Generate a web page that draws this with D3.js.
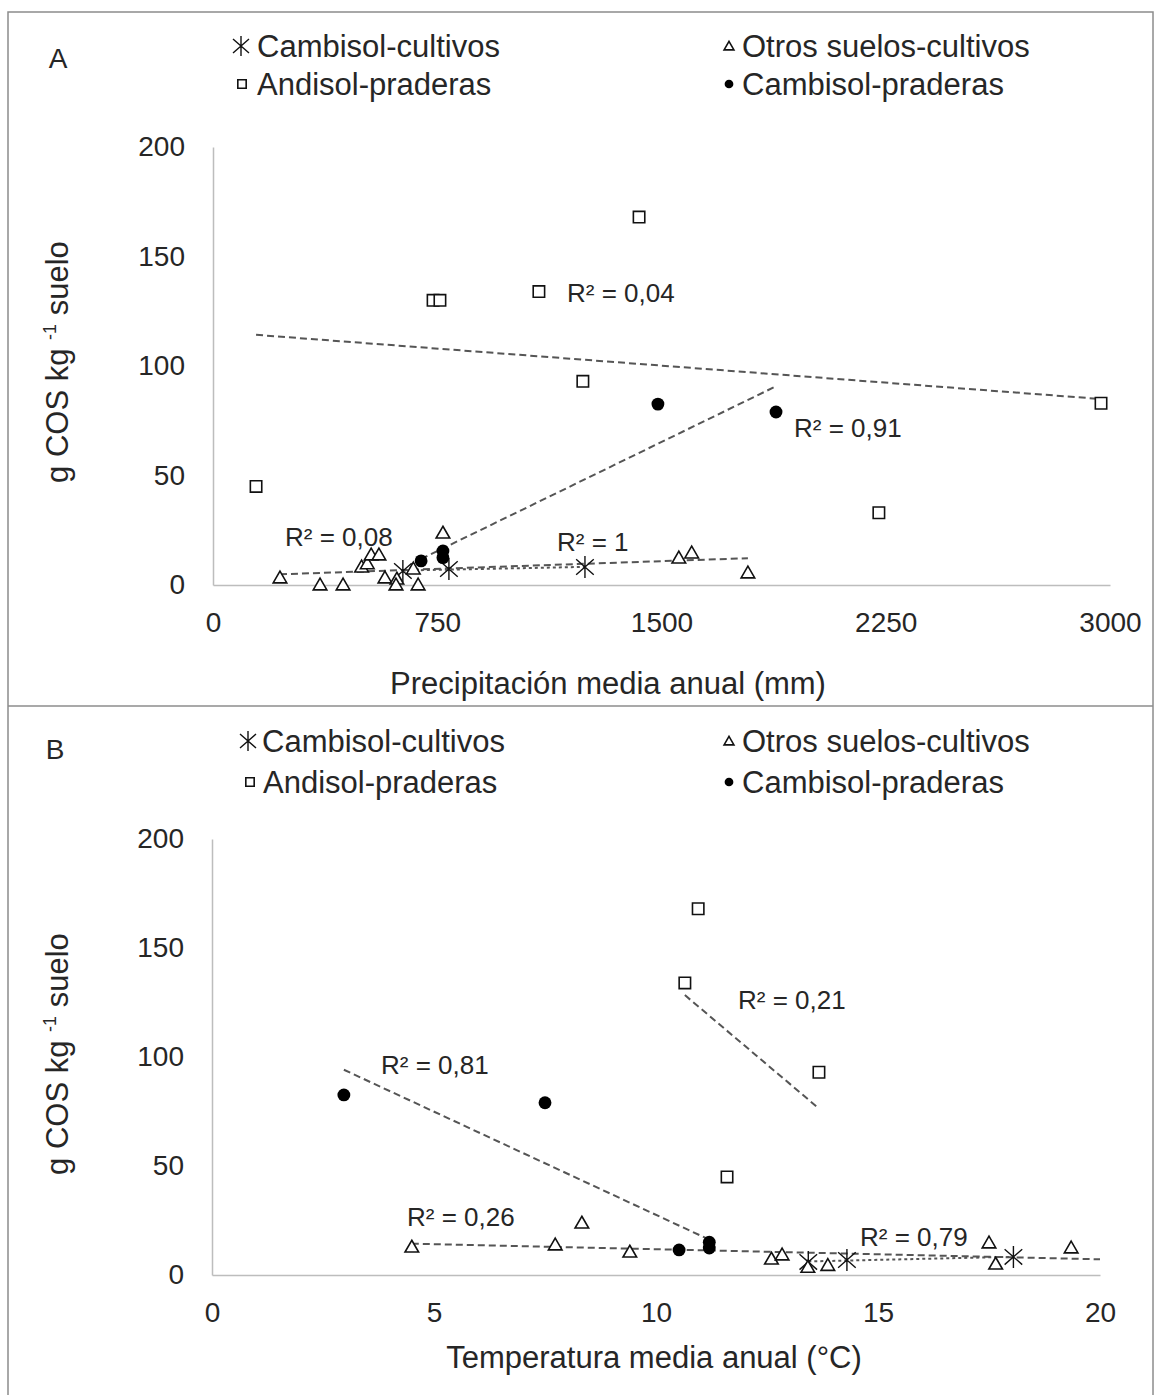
<!DOCTYPE html>
<html><head><meta charset="utf-8">
<script src="https://cdn.jsdelivr.net/npm/d3@7"></script>
<style>
body{margin:0;background:#fff}
svg{display:block}
text{font-family:"Liberation Sans",Arial,sans-serif;fill:#262626}
</style>
</head><body>
<svg id="c" width="1155" height="1395"></svg>
<script>
// ---------- DATA ----------
const yTicks = [0, 50, 100, 150, 200];
const precipTicks = [0, 750, 1500, 2250, 3000];
const tempTicks = [0, 5, 10, 15, 20];

const seriesNames = ["Cambisol-cultivos", "Otros suelos-cultivos", "Andisol-praderas", "Cambisol-praderas"];

// Panel A: precipitation (mm) vs g COS kg-1
const A_cambCult_x = [635, 789, 1244];
const A_cambCult_y = [6.4, 7.3, 8.2];
const A_otros_x = [224, 358, 435, 497, 516, 529, 555, 575, 615, 612, 670, 686, 769, 1558, 1601, 1789];
const A_otros_y = [3.2, 0, 0, 8.2, 9.7, 13.7, 13.7, 3.2, 2.7, 0, 7.3, 0, 23.7, 12.3, 14.6, 5.5];
const A_andisol_x = [144, 736, 759, 1090, 1425, 1237, 2970, 2227];
const A_andisol_y = [45, 130, 130, 134, 168, 93, 83, 33];
const A_cambPrad_x = [696, 769, 769, 1488, 1883];
const A_cambPrad_y = [11, 15.5, 12.5, 82.6, 79];
const A_r2 = ["R² = 1", "R² = 0,08", "R² = 0,04", "R² = 0,91"];
const A_trendEnd = [null, null, null, null];

// Panel B: temperature (°C) vs g COS kg-1
const B_cambCult_x = [13.43, 14.3, 18.05];
const B_cambCult_y = [6, 6.9, 8.3];
const B_otros_x = [4.5, 7.73, 8.33, 9.41, 12.6, 12.84, 13.42, 13.87, 17.5, 17.65, 19.35];
const B_otros_y = [12.8, 13.8, 23.8, 10.5, 7.3, 9.2, 3.5, 4.4, 14.7, 5, 12.4];
const B_andisol_x = [10.65, 10.95, 13.67, 11.6];
const B_andisol_y = [134, 168, 93, 45];
const B_cambPrad_x = [2.97, 7.5, 10.52, 11.2, 11.2];
const B_cambPrad_y = [82.6, 79, 11.5, 15, 12.4];
const B_r2 = ["R² = 0,79", "R² = 0,26", "R² = 0,21", "R² = 0,81"];
const B_trendEnd = [null, 20, null, null];

// ---------- LAYOUT ----------
const svg = d3.select("#c");
const FONT = '"Liberation Sans",Arial,sans-serif';

const panels = [
  {
    letter: "A", top: 12, bottom: 706,
    xDomain: [0, 3000], xRange: [213, 1110], yRange: [585, 147], ticks: precipTicks,
    xTitle: "Precipitación media anual (mm)", xTitlePos: [608, 694], yTitlePos: [68, 362],
    letterPos: [58, 68], legendY: [57, 95],
    legendX: [[241, 257], [729, 742], [242, 257], [729, 742]],
    series: [
      {x: A_cambCult_x, y: A_cambCult_y, sym: "ast"},
      {x: A_otros_x, y: A_otros_y, sym: "tri"},
      {x: A_andisol_x, y: A_andisol_y, sym: "sq"},
      {x: A_cambPrad_x, y: A_cambPrad_y, sym: "dot"}
    ],
    trendEnd: A_trendEnd,
    r2: A_r2, r2Pos: [[557, 551], [285, 546], [567, 302], [794, 437]]
  },
  {
    letter: "B", top: 706, bottom: 1395,
    xDomain: [0, 20], xRange: [212, 1100], yRange: [1275, 839], ticks: tempTicks,
    xTitle: "Temperatura media anual (°C)", xTitlePos: [654, 1368], yTitlePos: [68, 1054],
    letterPos: [55, 759], legendY: [752, 793],
    legendX: [[248, 262], [729, 742], [250, 263], [729, 742]],
    series: [
      {x: B_cambCult_x, y: B_cambCult_y, sym: "ast"},
      {x: B_otros_x, y: B_otros_y, sym: "tri"},
      {x: B_andisol_x, y: B_andisol_y, sym: "sq"},
      {x: B_cambPrad_x, y: B_cambPrad_y, sym: "dot"}
    ],
    trendEnd: B_trendEnd,
    r2: B_r2, r2Pos: [[860, 1246], [407, 1226], [738, 1009], [381, 1074]]
  }
];

function asterisk(s) {
  const h = s, w = s * 0.8, d = s * 0.7;
  return `M0,${-h}L0,${h}M${-w},${-d}L${w},${d}M${-w},${d}L${w},${-d}`;
}
function drawSymbol(g, sym, cx, cy, big) {
  if (sym === "ast") {
    g.append("path").attr("d", asterisk(big ? 11 : 10)).attr("transform", `translate(${cx},${cy})`)
      .attr("fill", "none").attr("stroke", "#111").attr("stroke-width", 1.4);
  } else if (sym === "tri") {
    g.append("path").attr("d", d3.symbol(d3.symbolTriangle, big ? 80 : 42)())
      .attr("transform", `translate(${cx},${cy + 1})`)
      .attr("fill", "#fff").attr("stroke", "#111").attr("stroke-width", 1.6);
  } else if (sym === "sq") {
    g.append("path").attr("d", d3.symbol(d3.symbolSquare, big ? 130 : 70)())
      .attr("transform", `translate(${cx},${cy})`)
      .attr("fill", "#fff").attr("stroke", "#111").attr("stroke-width", 1.6);
  } else {
    g.append("path").attr("d", d3.symbol(d3.symbolCircle, big ? 130 : 60)())
      .attr("transform", `translate(${cx},${cy})`)
      .attr("fill", "#000");
  }
}

function regression(xs, ys) {
  const n = xs.length, mx = d3.mean(xs), my = d3.mean(ys);
  let sxy = 0, sxx = 0;
  for (let i = 0; i < n; i++) { sxy += (xs[i] - mx) * (ys[i] - my); sxx += (xs[i] - mx) ** 2; }
  const b = sxy / sxx, a = my - b * mx;
  return x => a + b * x;
}

// frame
svg.append("rect").attr("x", 8).attr("y", 12).attr("width", 1145).attr("height", 1390)
  .attr("fill", "none").attr("stroke", "#8c8c8c").attr("stroke-width", 1.5);
svg.append("line").attr("x1", 8).attr("x2", 1153).attr("y1", 706).attr("y2", 706)
  .attr("stroke", "#8c8c8c").attr("stroke-width", 1.5);

panels.forEach(p => {
  const g = svg.append("g");
  const x = d3.scaleLinear().domain(p.xDomain).range(p.xRange);
  const y = d3.scaleLinear().domain([0, 200]).range(p.yRange);

  // axes
  const ya = g.append("g").attr("transform", `translate(${p.xRange[0]},0)`)
    .call(d3.axisLeft(y).tickValues(yTicks).tickSize(0).tickPadding(28));
  const xa = g.append("g").attr("transform", `translate(0,${p.yRange[0]})`)
    .call(d3.axisBottom(x).tickValues(p.ticks).tickSize(0).tickPadding(27).tickFormat(d3.format("d")));
  [ya, xa].forEach(a => {
    a.select(".domain").attr("stroke", "#bdbdbd").attr("stroke-width", 1.5);
    a.selectAll("text").attr("font-size", 28).attr("font-family", FONT).attr("fill", "#262626");
  });

  // titles
  g.append("text").attr("x", p.xTitlePos[0]).attr("y", p.xTitlePos[1]).attr("text-anchor", "middle")
    .attr("font-size", 31).text(p.xTitle);
  const yt = g.append("text").attr("transform", `translate(${p.yTitlePos[0]},${p.yTitlePos[1]}) rotate(-90)`)
    .attr("text-anchor", "middle").attr("font-size", 31);
  yt.append("tspan").text("g COS kg ");
  yt.append("tspan").attr("font-size", 18).attr("dy", -12).text("-1");
  yt.append("tspan").attr("dy", 12).text("  suelo");

  g.append("text").attr("x", p.letterPos[0]).attr("y", p.letterPos[1]).attr("text-anchor", "middle")
    .attr("font-size", 28).text(p.letter);

  // legend
  seriesNames.forEach((name, i) => {
    const ly = p.legendY[i < 2 ? 0 : 1];
    drawSymbol(g, p.series[i].sym, p.legendX[i][0], ly - 11, false);
    g.append("text").attr("x", p.legendX[i][1]).attr("y", ly).attr("font-size", 31).text(name);
  });

  // trend lines (least squares)
  const dashes = ["3,3", "7,4", "7,4", "7,4"];
  p.series.forEach((s, i) => {
    const f = regression(s.x, s.y);
    let [x0, x1] = d3.extent(s.x);
    if (p.trendEnd[i] != null) x1 = p.trendEnd[i];
    g.append("line")
      .attr("x1", x(x0)).attr("y1", y(f(x0))).attr("x2", x(x1)).attr("y2", y(f(x1)))
      .attr("stroke", "#555").attr("stroke-width", 2).attr("stroke-dasharray", dashes[i]);
  });

  // points
  p.series.forEach(s => {
    s.x.forEach((v, j) => drawSymbol(g, s.sym, x(v), y(s.y[j]), true));
  });

  // R² labels
  p.r2.forEach((t, i) => {
    g.append("text").attr("x", p.r2Pos[i][0]).attr("y", p.r2Pos[i][1]).attr("font-size", 26).text(t);
  });
});
</script>
</body></html>
